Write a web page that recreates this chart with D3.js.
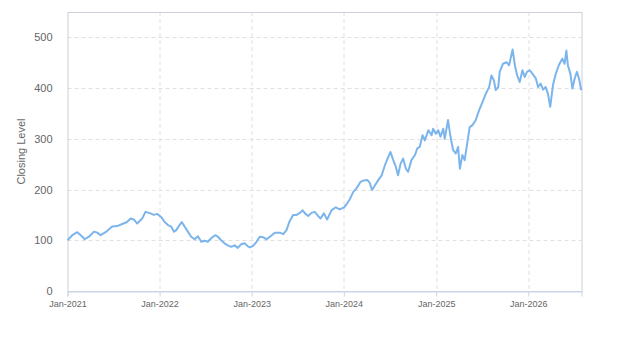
<!DOCTYPE html>
<html>
<head>
<meta charset="utf-8">
<script src="https://cdn.jsdelivr.net/npm/d3@7"></script>
<style>
    body { margin: 0; background: #fff; }
    text { font-family: "Liberation Sans", Arial, sans-serif; fill: #666666; }
</style>
</head>
<body>
<div id="chart"></div>
<script>
// closing level (roughly every two weeks)
var dates = [
    "2021-01-01","2021-01-20","2021-02-09","2021-03-01","2021-03-10","2021-03-27","2021-04-16","2021-04-29",
    "2021-05-12","2021-06-01","2021-06-27","2021-07-17","2021-08-06","2021-08-25","2021-09-08","2021-09-21",
    "2021-10-04","2021-10-24","2021-11-06","2021-11-26","2021-12-09","2021-12-22",
    "2022-01-07","2022-01-21","2022-02-03","2022-02-16","2022-02-27","2022-03-08","2022-03-21","2022-03-30",
    "2022-04-10","2022-04-23","2022-05-06","2022-05-20","2022-06-02","2022-06-15","2022-06-28","2022-07-11",
    "2022-07-24","2022-08-09","2022-08-20","2022-09-02","2022-09-15","2022-09-28","2022-10-12","2022-10-25",
    "2022-11-07","2022-11-20","2022-12-04","2022-12-17","2022-12-25",
    "2023-01-07","2023-01-20","2023-02-02","2023-02-15","2023-03-01","2023-03-14","2023-04-03","2023-04-23",
    "2023-05-06","2023-05-19","2023-05-30","2023-06-14","2023-06-28","2023-07-11","2023-07-22","2023-07-31",
    "2023-08-13","2023-08-26","2023-09-08","2023-09-21","2023-10-01","2023-10-14","2023-10-27","2023-11-13",
    "2023-11-30","2023-12-16",
    "2024-01-02","2024-01-12","2024-01-25","2024-02-07","2024-02-20","2024-03-07","2024-03-20","2024-04-03",
    "2024-04-13","2024-04-22","2024-05-03","2024-05-16","2024-05-30","2024-06-12","2024-06-25","2024-07-04",
    "2024-07-15","2024-07-25","2024-08-03","2024-08-13","2024-08-23","2024-09-03","2024-09-12","2024-09-25",
    "2024-10-09","2024-10-18","2024-10-28","2024-11-08","2024-11-17","2024-12-01","2024-12-14","2024-12-20",
    "2024-12-31",
    "2025-01-09","2025-01-18","2025-01-29","2025-02-04","2025-02-17","2025-02-27","2025-03-09","2025-03-20",
    "2025-03-29","2025-04-05","2025-04-15","2025-04-24","2025-05-04","2025-05-14","2025-05-25","2025-06-07",
    "2025-06-20","2025-07-04","2025-07-17","2025-07-30","2025-08-08","2025-08-18","2025-08-25","2025-09-04",
    "2025-09-10","2025-09-23","2025-10-07","2025-10-17","2025-10-31","2025-11-09","2025-11-18","2025-11-28",
    "2025-12-09","2025-12-18","2025-12-27",
    "2026-01-07","2026-01-18","2026-01-31","2026-02-09","2026-02-19","2026-03-01","2026-03-11","2026-03-20",
    "2026-03-29","2026-04-09","2026-04-20","2026-05-02","2026-05-16","2026-05-25","2026-06-01","2026-06-07",
    "2026-06-17","2026-06-25","2026-07-04","2026-07-13","2026-07-21","2026-07-30"
];

var closes = [
    100,110,116,107,102,107,117,115,
    110,116,127,128,132,136,143,141,
    133,143,156,153,150,152,
    146,136,130,127,117,120,130,136,
    127,117,107,102,108,97,99,97,
    104,110,107,100,94,90,87,90,
    85,92,94,88,86,
    89,97,107,106,102,107,115,115,
    112,120,136,150,150,154,159,153,
    148,154,156,148,143,153,141,159,
    165,161,
    165,171,181,195,202,215,218,219,
    213,199,208,218,228,248,264,274,
    258,245,228,251,261,241,235,258,
    268,281,284,307,297,317,307,320,
    310,
    317,304,320,300,337,304,278,271,
    284,241,268,258,291,323,327,337,
    356,373,389,402,425,415,396,402,
    432,448,451,445,476,445,425,412,
    435,422,432,
    435,428,419,402,409,397,402,389,
    363,406,428,445,458,448,474,445,
    428,399,419,432,419,396
];

var yTicks = [0, 100, 200, 300, 400, 500];
var xTickYears = [2021, 2022, 2023, 2024, 2025, 2026];
var yTitle = "Closing Level";

var width = 623;
var height = 350;
var margin = { top: 12, right: 41.5, bottom: 59, left: 67.5 };
var plotW = width - margin.left - margin.right;
var plotH = height - margin.top - margin.bottom;

var parse = d3.timeParse("%Y-%m-%d");
var data = dates.map(function(d, i) {
    return { date: parse(d), value: closes[i] };
});

var svg = d3.select("#chart").append("svg")
    .attr("width", width)
    .attr("height", height);

var g = svg.append("g")
    .attr("transform", "translate(" + margin.left + "," + margin.top + ")");

var x = d3.scaleTime()
    .domain([new Date(2021, 0, 1), new Date(2026, 6, 31)])
    .range([0, plotW]);

var y = d3.scaleLinear()
    .domain([0, 550])
    .range([plotH, 0]);

var xTicks = xTickYears.map(function(yr) { return new Date(yr, 0, 1); });

//dashed grid
g.append("g").selectAll("line")
    .data(yTicks.slice(1))
    .enter()
    .append("line")
    .attr("x1", 0)
    .attr("x2", plotW)
    .attr("y1", function(d) { return Math.round(y(d)) + 0.5; })
    .attr("y2", function(d) { return Math.round(y(d)) + 0.5; })
    .style("stroke", "#e0e0e0")
    .style("stroke-dasharray", "4,3");

g.append("g").selectAll("line")
    .data(xTicks.slice(1))
    .enter()
    .append("line")
    .attr("x1", function(d) { return Math.round(x(d)) + 0.5; })
    .attr("x2", function(d) { return Math.round(x(d)) + 0.5; })
    .attr("y1", 0)
    .attr("y2", plotH)
    .style("stroke", "#e0e0e0")
    .style("stroke-dasharray", "4,3");

//plot border
g.append("rect")
    .attr("x", 0.5)
    .attr("y", 0.5)
    .attr("width", plotW)
    .attr("height", plotH)
    .style("fill", "none")
    .style("stroke", "#ccd0d8")
    .style("stroke-width", 1);

//x axis
var xAxis = d3.axisBottom(x)
    .tickValues(xTicks)
    .tickSize(5)
    .tickPadding(4)
    .tickFormat(d3.timeFormat("%b-%Y"));

var xg = g.append("g")
    .attr("transform", "translate(0," + (plotH + 0.5) + ")")
    .call(xAxis);
xg.select(".domain").style("stroke", "#ccd6eb");
xg.selectAll(".tick line").style("stroke", "#ccd6eb");
xg.selectAll("text")
    .style("font-size", "9px")
    .style("fill", "#666666");

//y axis labels
var yAxis = d3.axisLeft(y)
    .tickValues(yTicks)
    .tickSize(0)
    .tickPadding(15);

var yg = g.append("g").call(yAxis);
yg.select(".domain").remove();
yg.selectAll("text")
    .style("font-size", "11px")
    .style("fill", "#666666");

svg.append("text")
    .attr("transform", "translate(25," + (margin.top + plotH / 2) + ") rotate(-90)")
    .attr("text-anchor", "middle")
    .style("font-size", "11px")
    .text(yTitle);

//the series
var line = d3.line()
    .x(function(d) { return x(d.date); })
    .y(function(d) { return y(d.value); });

g.append("path")
    .datum(data)
    .attr("d", line)
    .style("fill", "none")
    .style("stroke", "#7cb5ec")
    .style("stroke-width", 2)
    .style("stroke-linejoin", "round");
</script>
</body>
</html>
